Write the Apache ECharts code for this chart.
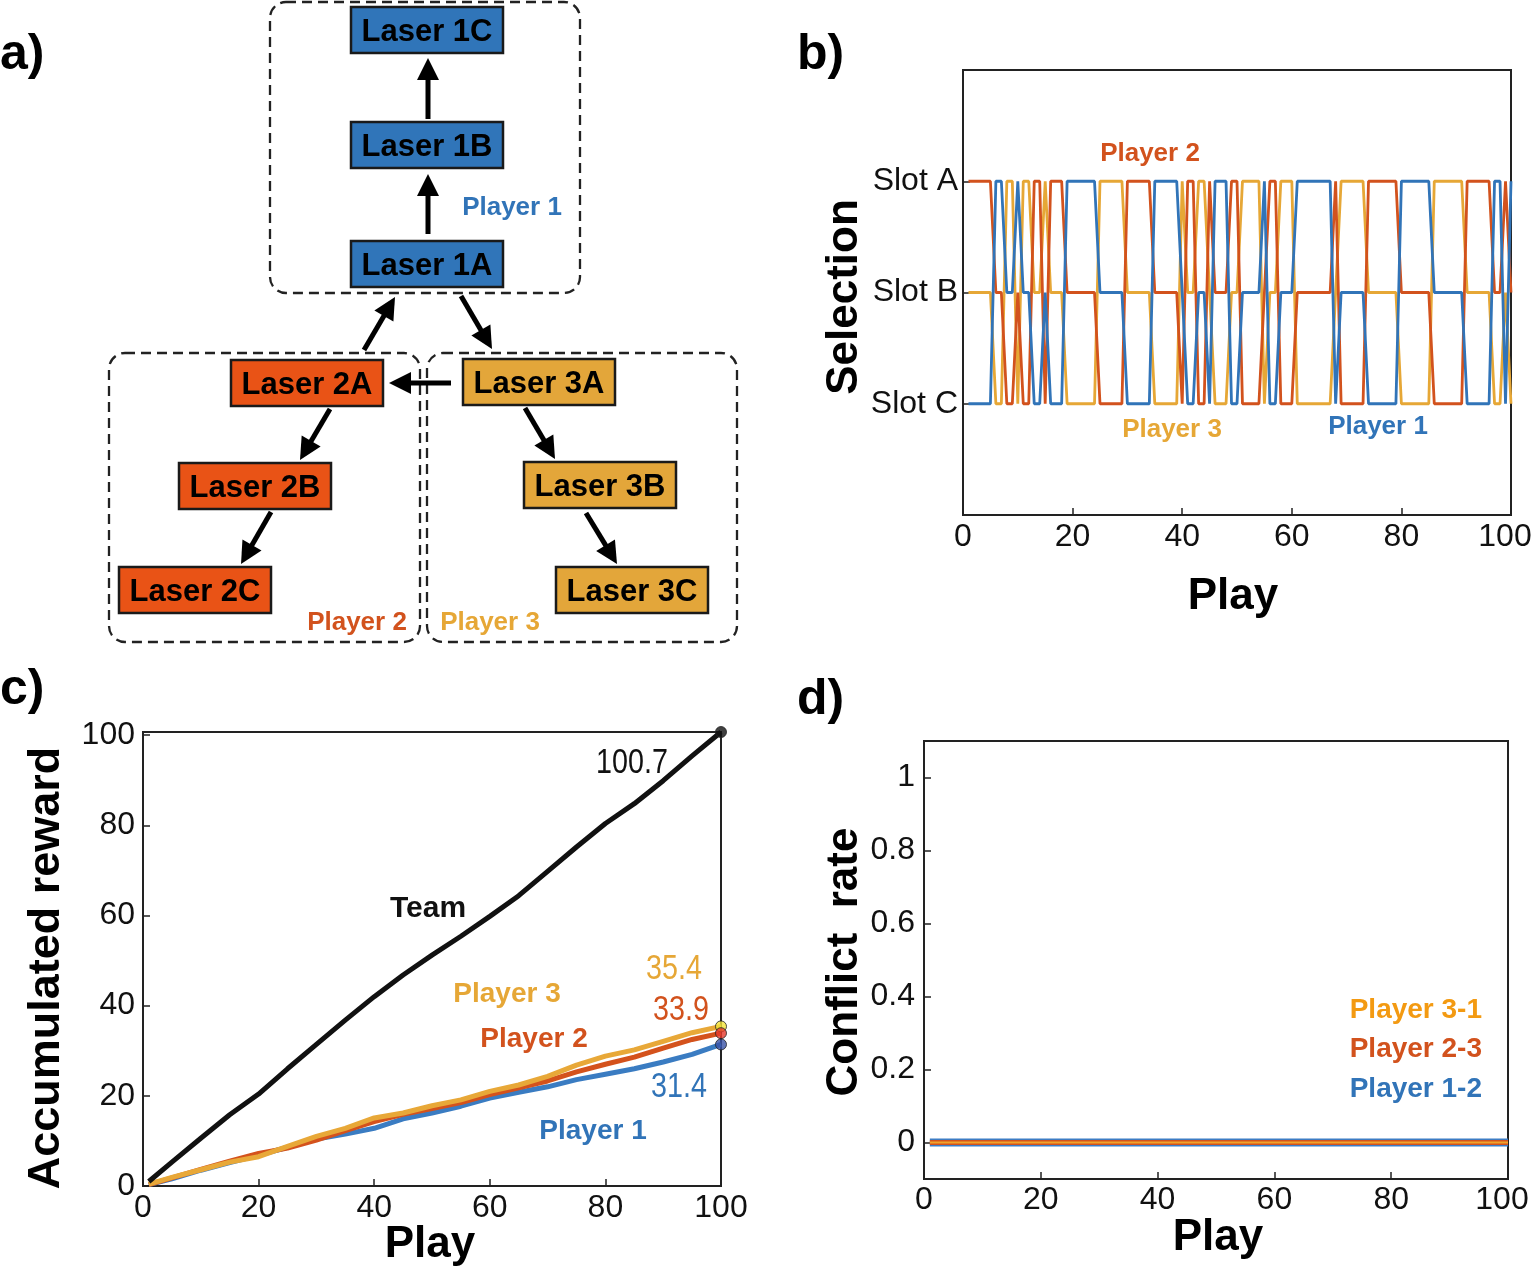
<!DOCTYPE html>
<html>
<head>
<meta charset="utf-8">
<script src="https://cdn.jsdelivr.net/npm/echarts@6/dist/echarts.min.js"></script>
<style>html,body{margin:0;padding:0;background:#fff}#c{width:1533px;height:1270px}</style>
</head>
<body>
<div id="c"></div>
<script>
// ---------- DATA ----------
// Panel b: slot selected by each player at each play (1 = Slot C, 2 = Slot B, 3 = Slot A)
const slotLabels = ['', 'Slot C', 'Slot B', 'Slot A', ''];
const p1Sel = [1,1,1,1,1,3,3,2,2,3, 2,2,1,1,2,1,1,1,3,3, 3,3,3,3,2,2,2,2,2,1, 1,1,1,1,3,3,3,3,3,2,
               1,1,2,2,1,3,3,3,1,1, 2,2,2,2,3,1,1,2,2,2, 3,3,3,3,3,3,3,1,2,2, 2,2,2,1,1,1,1,1,1,3,
               3,3,3,3,3,2,2,2,2,2, 2,1,1,1,1,1,3,3,1,3];
const p2Sel = [3,3,3,3,3,2,2,1,1,2, 1,1,3,3,1,3,3,3,2,2, 2,2,2,2,1,1,1,1,1,3, 3,3,3,3,2,2,2,2,2,1,
               3,3,1,1,3,2,2,2,3,3, 1,1,1,1,2,3,3,1,1,1, 2,2,2,2,2,2,2,3,1,1, 1,1,1,3,3,3,3,3,3,2,
               2,2,2,2,2,1,1,1,1,1, 1,3,3,3,3,3,2,2,3,2];
const p3Sel = [2,2,2,2,2,1,1,3,3,1, 3,3,2,2,3,2,2,2,1,1, 1,1,1,1,3,3,3,3,3,2, 2,2,2,2,1,1,1,1,1,3,
               2,2,3,3,2,1,1,1,2,2, 3,3,3,3,1,2,2,3,3,3, 1,1,1,1,1,1,1,2,3,3, 3,3,3,2,2,2,2,2,2,1,
               1,1,1,1,1,3,3,3,3,3, 3,2,2,2,2,2,1,1,2,1];
// Panel c: accumulated reward (read at sampled plays)
const cPlays   = [1,5,10,15,20,25,30,35,40,45,50,55,60,65,70,75,80,85,90,95,100];
const team     = [1.0,5.3,10.6,15.8,20.4,26.0,31.4,36.8,42.0,46.8,51.2,55.4,59.8,64.4,69.8,75.2,80.4,84.8,89.9,95.4,100.7];
const p1Reward = [0.3,1.6,3.5,5.2,6.8,8.6,10.4,11.5,12.8,14.9,16.2,17.7,19.5,20.8,22.0,23.6,24.8,26.0,27.5,29.2,31.4];
const p2Reward = [0.3,1.8,3.7,5.5,7.2,8.4,10.2,12.3,14.3,15.9,17.2,18.5,20.3,21.8,23.3,25.3,27.0,28.6,30.6,32.5,33.9];
const p3Reward = [0.4,1.9,3.6,5.3,6.5,8.8,11.0,12.8,15.1,16.2,17.8,19.1,21.0,22.4,24.3,26.8,28.8,30.2,32.1,34.0,35.4];
// Panel d: conflict rate
const dPlays     = [1,10,20,30,40,50,60,70,80,90,100];
const conflict12 = [0,0,0,0,0,0,0,0,0,0,0];
const conflict23 = [0,0,0,0,0,0,0,0,0,0,0];
const conflict31 = [0,0,0,0,0,0,0,0,0,0,0];
const xTicks = [0,20,40,60,80,100];
const cYTicks = [0,20,40,60,80,100];
const dYTicks = [0,0.2,0.4,0.6,0.8,1];

// ---------- STYLE ----------
const BLUE = '#3174b8', RED = '#d2521d', YEL = '#e6a736';
const NUMF = "'Liberation Sans',Arial,sans-serif";
const BOLD = "'Liberation Sans',Arial,sans-serif";

const pairs = (xs, ys) => ys.map((v, i) => [xs[i], v]);
const seqPairs = arr => arr.map((v, i) => [i + 1, v]);

function axisCommon() {
  return {
    axisLine: {show: true, onZero: false, lineStyle: {color: '#222', width: 2}},
    axisTick: {show: true, inside: true, length: 7, lineStyle: {color: '#222', width: 1.5}},
    axisLabel: {fontFamily: NUMF, fontSize: 32, color: '#111'},
    splitLine: {show: false}
  };
}
function xAx(grid, margin, shiftLast) {
  const a = axisCommon();
  const lab = Object.assign(a.axisLabel, {margin: margin, customValues: xTicks});
  if (shiftLast) {
    lab.formatter = v => (v === 100 ? '{r|100}' : String(v));
    lab.rich = {r: {fontFamily: NUMF, fontSize: 32, color: '#111', padding: [0, 12, 0, 0]}};
  }
  return Object.assign(a, {type: 'value', gridIndex: grid, min: 0, max: 100, interval: 20,
    axisLabel: lab,
    axisTick: Object.assign(a.axisTick, {customValues: xTicks})});
}

// ---------- GRAPHIC (panel a + annotations) ----------
const G = [];
function txt(x, y, s, font, fill, align, rot, sx) {
  G.push({type: 'text', x: x, y: y, rotation: rot || 0, scaleX: sx || 1, z: 100,
    style: {text: s, font: font, fill: fill, textAlign: align || 'center', textVerticalAlign: 'middle'}});
}
function box(x, y, w, h, fill, label) {
  G.push({type: 'rect', shape: {x: x, y: y, width: w, height: h}, z: 50,
    style: {fill: fill, stroke: '#1a1a1a', lineWidth: 2.5}});
  txt(x + w / 2, y + h / 2 + 2, label, 'bold 31px ' + BOLD, '#000');
}
function dashed(x, y, w, h) {
  G.push({type: 'rect', shape: {x: x, y: y, width: w, height: h, r: 16}, z: 40,
    style: {fill: null, stroke: '#222', lineWidth: 2.3, lineDash: [10, 6]}});
}
function arrow(x1, y1, x2, y2) {
  const dx = x2 - x1, dy = y2 - y1, L = Math.hypot(dx, dy), ux = dx / L, uy = dy / L;
  const hl = 22, hw = 11;
  const bx = x2 - ux * hl, by = y2 - uy * hl;
  G.push({type: 'line', shape: {x1: x1, y1: y1, x2: bx + ux * 2, y2: by + uy * 2}, z: 60,
    style: {stroke: '#000', lineWidth: 5}});
  G.push({type: 'polygon', z: 60, shape: {points: [[x2, y2], [bx - uy * hw, by + ux * hw], [bx + uy * hw, by - ux * hw]]},
    style: {fill: '#000'}});
}
const C1 = '#3075b9', C2 = '#e95316', C3 = '#e3a63a';
dashed(270, 2, 310, 291);
dashed(109, 353, 311, 289);
dashed(427, 353, 310, 289);
box(351, 7, 152, 46, C1, 'Laser 1C');
box(351, 122, 152, 46, C1, 'Laser 1B');
box(351, 241, 152, 46, C1, 'Laser 1A');
box(231, 360, 152, 46, C2, 'Laser 2A');
box(463, 359, 152, 46, C3, 'Laser 3A');
box(179, 463, 152, 46, C2, 'Laser 2B');
box(524, 462, 152, 46, C3, 'Laser 3B');
box(119, 567, 152, 46, C2, 'Laser 2C');
box(556, 567, 152, 46, C3, 'Laser 3C');
arrow(428, 234, 428, 174);
arrow(428, 119, 428, 58);
arrow(364, 350, 395, 297);
arrow(461, 296, 492, 349);
arrow(451, 383, 389, 383);
arrow(330, 409, 300, 460);
arrow(271, 512, 241, 564);
arrow(525, 408, 555, 459);
arrow(586, 513, 617, 564);
txt(512, 208, 'Player 1', 'bold 26px ' + BOLD, BLUE);
txt(357, 623, 'Player 2', 'bold 26px ' + BOLD, RED);
txt(490, 623, 'Player 3', 'bold 26px ' + BOLD, YEL);

// panel letters
txt(0, 55, 'a)', 'bold 50px ' + BOLD, '#000', 'left');
txt(797, 55, 'b)', 'bold 50px ' + BOLD, '#000', 'left');
txt(0, 690, 'c)', 'bold 50px ' + BOLD, '#000', 'left');
txt(797, 700, 'd)', 'bold 50px ' + BOLD, '#000', 'left');

// axis titles
txt(1233, 597, 'Play', 'bold 44px ' + BOLD, '#000');
txt(845, 297, 'Selection', 'bold 44px ' + BOLD, '#000', 'center', Math.PI / 2);
txt(430, 1245, 'Play', 'bold 44px ' + BOLD, '#000');
txt(47, 968, 'Accumulated reward', 'bold 45px ' + BOLD, '#000', 'center', Math.PI / 2);
txt(1218, 1238, 'Play', 'bold 44px ' + BOLD, '#000');
txt(845, 962, 'Conflict  rate', 'bold 44px ' + BOLD, '#000', 'center', Math.PI / 2);

// panel b annotations
txt(1150, 154, 'Player 2', 'bold 26px ' + BOLD, RED);
txt(1172, 430, 'Player 3', 'bold 26px ' + BOLD, YEL);
txt(1378, 427, 'Player 1', 'bold 26px ' + BOLD, BLUE);

// panel c annotations
txt(632, 763, '100.7', '35px ' + NUMF, '#111', 'center', 0, 0.82);
txt(428, 909, 'Team', 'bold 30px ' + BOLD, '#111');
txt(507, 994, 'Player 3', 'bold 28px ' + BOLD, YEL);
txt(674, 969, '35.4', '35px ' + NUMF, YEL, 'center', 0, 0.82);
txt(534, 1039, 'Player 2', 'bold 28px ' + BOLD, RED);
txt(681, 1010, '33.9', '35px ' + NUMF, RED, 'center', 0, 0.82);
txt(679, 1087, '31.4', '35px ' + NUMF, BLUE, 'center', 0, 0.82);
txt(593, 1131, 'Player 1', 'bold 28px ' + BOLD, BLUE);

// panel d annotations
txt(1482, 1010, 'Player 3-1', 'bold 28px ' + BOLD, '#f39a12', 'right');
txt(1482, 1049, 'Player 2-3', 'bold 28px ' + BOLD, RED, 'right');
txt(1482, 1089, 'Player 1-2', 'bold 28px ' + BOLD, BLUE, 'right');

// ---------- AXES ----------
const yB = axisCommon();
Object.assign(yB, {type: 'value', gridIndex: 0, min: 0, max: 4, interval: 1});
yB.axisLabel = Object.assign(yB.axisLabel, {margin: 5, customValues: [1, 2, 3], formatter: v => slotLabels[Math.round(v)] || ''});
yB.axisTick = Object.assign(yB.axisTick, {customValues: [1, 2, 3]});

const yC = axisCommon();
Object.assign(yC, {type: 'value', gridIndex: 1, min: 0, max: 100.7});
yC.axisLabel = Object.assign(yC.axisLabel, {margin: 8, customValues: cYTicks});
yC.axisTick = Object.assign(yC.axisTick, {customValues: cYTicks});

const yD = axisCommon();
Object.assign(yD, {type: 'value', gridIndex: 2, min: -0.1, max: 1.1});
yD.axisLabel = Object.assign(yD.axisLabel, {margin: 9, customValues: dYTicks});
yD.axisTick = Object.assign(yD.axisTick, {customValues: dYTicks});

function line(xi, yi, data, color, width, z) {
  return {type: 'line', xAxisIndex: xi, yAxisIndex: yi, data: data, showSymbol: false, symbol: 'none',
    lineStyle: {color: color, width: width}, z: z || 2, silent: true};
}
function endDot(xi, yi, x, y, color) {
  return {type: 'scatter', xAxisIndex: xi, yAxisIndex: yi, data: [[x, y]], symbolSize: 11, z: 10,
    itemStyle: {color: color, borderColor: '#222', borderWidth: 1}, silent: true};
}
const gridBase = {show: true, borderColor: '#222', borderWidth: 2, backgroundColor: 'transparent',
  containLabel: false, outerBoundsMode: 'none'};

const option = {
  animation: false,
  backgroundColor: '#fff',
  grid: [
    Object.assign({left: 963, top: 70, width: 548, height: 445}, gridBase),
    Object.assign({left: 143, top: 732, width: 578, height: 454}, gridBase),
    Object.assign({left: 924, top: 741, width: 584, height: 438}, gridBase)
  ],
  xAxis: [xAx(0, 6, true), xAx(1, 6, false), xAx(2, 5, true)],
  yAxis: [yB, yC, yD],
  series: [
    line(0, 0, seqPairs(p3Sel), YEL, 2.8, 2),
    line(0, 0, seqPairs(p2Sel), RED, 2.8, 3),
    line(0, 0, seqPairs(p1Sel), BLUE, 2.8, 4),

    line(1, 1, pairs(cPlays, p1Reward), '#3a7cc2', 5, 2),
    line(1, 1, pairs(cPlays, p2Reward), '#d4521c', 5, 3),
    line(1, 1, pairs(cPlays, p3Reward), '#e8a838', 5, 4),
    line(1, 1, pairs(cPlays, team), '#111', 5, 5),
    endDot(1, 1, cPlays[cPlays.length - 1], team[team.length - 1], '#111'),
    endDot(1, 1, cPlays[cPlays.length - 1], p3Reward[p3Reward.length - 1], '#f4e43a'),
    endDot(1, 1, cPlays[cPlays.length - 1], p2Reward[p2Reward.length - 1], '#e6382a'),
    endDot(1, 1, cPlays[cPlays.length - 1], p1Reward[p1Reward.length - 1], '#3953a6'),

    line(2, 2, pairs(dPlays, conflict12), '#3c7cc4', 8, 2),
    line(2, 2, pairs(dPlays, conflict23), '#d4521c', 5, 3),
    line(2, 2, pairs(dPlays, conflict31), '#f0a32a', 2, 4)
  ],
  graphic: G
};
const chart = echarts.init(document.getElementById('c'), null, {renderer: 'canvas', width: 1533, height: 1270});
chart.setOption(option);
</script>
</body>
</html>
